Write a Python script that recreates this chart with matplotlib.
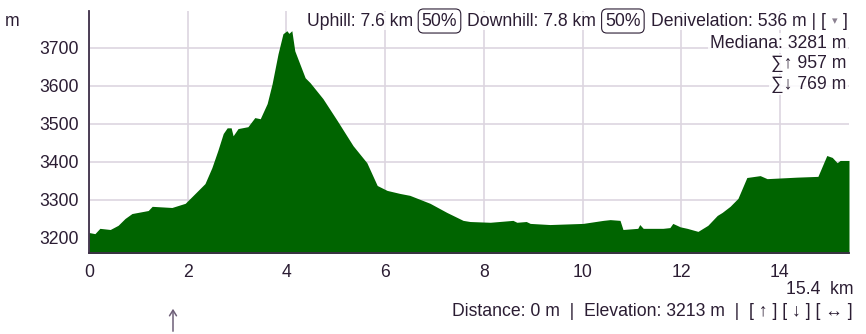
import numpy as np
import matplotlib
matplotlib.use('Agg')
import matplotlib.pyplot as plt
from matplotlib.patches import FancyArrowPatch

plt.rcParams['font.family'] = ['Liberation Sans', 'DejaVu Sans']

# elevation profile (km, m)
dist_km = [0.00, 0.12, 0.22, 0.43, 0.59, 0.73, 0.87, 1.20, 1.28, 1.68,
           1.95, 2.15, 2.35, 2.49, 2.61, 2.72, 2.80, 2.88, 2.92, 3.02,
           3.22, 3.36, 3.47, 3.61, 3.71, 3.83, 3.93, 4.01, 4.05, 4.11,
           4.17, 4.38, 4.48, 4.74, 5.03, 5.35, 5.63, 5.84, 6.04, 6.30,
           6.50, 6.91, 7.25, 7.58, 7.72, 8.13, 8.59, 8.67, 8.86, 8.94,
           9.34, 10.01, 10.42, 10.56, 10.76, 10.82, 11.12, 11.16, 11.23, 11.63,
           11.77, 11.83, 11.98, 12.12, 12.34, 12.54, 12.73, 12.83, 12.99, 13.15,
           13.33, 13.60, 13.74, 14.35, 14.77, 14.95, 15.06, 15.16, 15.22, 15.40]
elev_m = [3213, 3210, 3224, 3221, 3232, 3250, 3263, 3271, 3282, 3279,
          3290, 3316, 3342, 3384, 3429, 3474, 3489, 3489, 3468, 3487,
          3492, 3516, 3513, 3553, 3605, 3684, 3737, 3745, 3738, 3745,
          3692, 3621, 3608, 3566, 3508, 3442, 3397, 3337, 3324, 3316,
          3311, 3290, 3266, 3245, 3242, 3240, 3245, 3240, 3242, 3237,
          3234, 3237, 3245, 3247, 3245, 3221, 3224, 3234, 3224, 3224,
          3226, 3237, 3228, 3224, 3216, 3232, 3258, 3266, 3282, 3303,
          3358, 3363, 3355, 3359, 3361, 3416, 3411, 3397, 3403, 3403]

x_ticks = [0, 2, 4, 6, 8, 10, 12, 14]
y_ticks = [3200, 3300, 3400, 3500, 3600, 3700]

TXT = '#2b1d33'
GRID = '#ddd5e0'
SPINE = '#3e2f48'
FS = 12.7

W, H = 866, 334
fig = plt.figure(figsize=(W / 100, H / 100), dpi=100)
ax = fig.add_axes([89 / W, (H - 253) / H, (849 - 89) / W, (253 - 11) / H])

ax.fill_between(dist_km, elev_m, 3000, color='#006400', linewidth=0, zorder=2)
ax.set_xlim(0, 15.4)
ax.set_ylim(3159, 3797)
ax.set_xticks(x_ticks)
ax.set_yticks(y_ticks)
ax.set_axisbelow(True)
ax.grid(True, color=GRID, linewidth=1.2)
ax.tick_params(length=0, labelsize=FS, colors=TXT, pad=7)
ax.tick_params(axis='x', pad=8)
for s in ['top', 'right']:
    ax.spines[s].set_visible(False)
for s in ['left', 'bottom']:
    ax.spines[s].set_color(SPINE)
    ax.spines[s].set_linewidth(1.3)

fig.text(5 / W, 1 - 21 / H, 'm', fontsize=FS, color=TXT, va='center')

# header line, built right to left
fig.canvas.draw()
rend = fig.canvas.get_renderer()
pieces = [(']', 'plain', 6),
          ('\u25be', 'small', 6),
          ('Denivelation: 536 m | [', 'plain', 10),
          ('50%', 'boxed', 9),
          ('Downhill: 7.8 km', 'plain', 10),
          ('50%', 'boxed', 9),
          ('Uphill: 7.6 km', 'plain', 0)]
x_right = 848
y_head = H - 21
for txt, style, gap in pieces:
    kw = dict(fontsize=FS, color=TXT, ha='right', va='center')
    if style == 'boxed':
        kw['bbox'] = dict(boxstyle='round,pad=0.2,rounding_size=0.3',
                          fc='white', ec=TXT, lw=0.8)
    elif style == 'small':
        kw['fontsize'] = 8
        kw['color'] = '#8a8090'
        kw['family'] = ['DejaVu Sans']
    else:
        kw['bbox'] = dict(boxstyle='square,pad=0.05', fc='white', ec='none', alpha=0.85)
    t = fig.text(x_right / W, y_head / H, txt, **kw)
    bb = t.get_window_extent(rend)
    x_right = bb.x0 - gap

for i, line in enumerate(['Mediana: 3281 m', '\u2211\u2191 957 m', '\u2211\u2193 769 m']):
    fig.text(846 / W, 1 - (43 + 21 * i) / H, line, fontsize=FS, color=TXT,
             ha='right', va='center',
             bbox=dict(boxstyle='square,pad=0.1', fc='white', ec='none', alpha=0.85))

fig.text(853 / W, 1 - 290 / H, '15.4  km', fontsize=FS, color=TXT, ha='right', va='center')
fig.text(853 / W, 1 - 312 / H,
         'Distance: 0 m  |  Elevation: 3213 m  |  [ \u2191 ] [ \u2193 ] [ \u2194 ]',
         fontsize=FS, color=TXT, ha='right', va='center')

# position marker arrow below the chart
fig.add_artist(FancyArrowPatch(
    (173 / W, 0), (173 / W, 1 - 306 / H), transform=fig.transFigure,
    arrowstyle='->,head_length=4,head_width=2.5', color='#6e5f78', lw=1.1,
    mutation_scale=1))

fig.savefig('out.png', dpi=100)
